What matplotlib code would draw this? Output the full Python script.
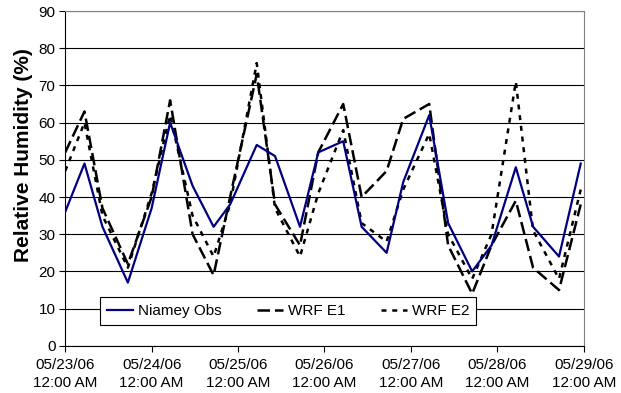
import matplotlib.pyplot as plt

plt.rcParams['font.family'] = ['Liberation Sans', 'DejaVu Sans']

# time in days since 05/23/06 12:00 AM
days = [0.0, 0.223, 0.431, 0.725, 1.0, 1.214, 1.474, 1.717, 1.908, 2.216,
        2.428, 2.717, 2.928, 3.217, 3.43, 3.719, 3.911, 4.212, 4.431, 4.709,
        4.933, 5.214, 5.414, 5.714, 5.965]

niamey_obs = [36, 49, 32, 17, 37, 60, 43, 32, 38, 54,
              51, 32, 52, 55, 32, 25, 44, 62, 33, 20,
              27, 48, 32, 24, 49]
wrf_e1 = [52, 63, 37, 22, 40, 66, 30, 19, 40, 73,
          38, 27, 52, 65, 40, 47, 61, 65, 27, 14,
          27, 39, 21, 15, 38]
wrf_e2 = [47, 60, 35, 21, 41, 62, 35, 24, 38, 76,
          37, 24, 41, 58, 33, 28, 42, 57, 30, 18,
          30, 71, 31, 18, 42]

tick_days = [0, 1, 2, 3, 4, 5, 6]
tick_labels = ['05/23/06\n12:00 AM', '05/24/06\n12:00 AM', '05/25/06\n12:00 AM',
               '05/26/06\n12:00 AM', '05/27/06\n12:00 AM', '05/28/06\n12:00 AM',
               '05/29/06\n12:00 AM']

fig = plt.figure(figsize=(6.21, 3.93), dpi=100)
ax = fig.add_axes([0.105, 0.12, 0.835, 0.852])

ax.plot(days, niamey_obs, color='#000080', linewidth=1.6, label='Niamey Obs', zorder=4)
ax.plot(days, wrf_e1, color='black', linewidth=1.8, dashes=(5, 2), label='WRF E1', zorder=3)
ax.plot(days, wrf_e2, color='black', linewidth=1.8, dashes=(2, 2.3), label='WRF E2', zorder=3)

ax.set_xlim(0, 6)
ax.set_ylim(0, 90)
ax.set_yticks(range(0, 91, 10))
ax.set_xticks(tick_days)
ax.set_xticklabels(tick_labels, fontsize=11, linespacing=1.35)
ax.tick_params(axis='y', labelsize=11, direction='out', length=4, width=0.8, pad=3)
ax.tick_params(axis='x', direction='out', length=4, width=0.8, pad=5)
ax.yaxis.grid(True, color='black', linewidth=0.8)
ax.set_axisbelow(True)

ax.spines['top'].set_color('#808080')
ax.spines['right'].set_color('#808080')
ax.spines['left'].set_color('black')
ax.spines['bottom'].set_color('black')

ax.set_ylabel('Relative Humidity (%)', fontsize=15, fontweight='bold')
ax.yaxis.set_label_coords(-0.062, 0.57)

leg = ax.legend(loc='lower left', bbox_to_anchor=(0.0674, 0.063), borderaxespad=0,
                ncol=3, fontsize=11, frameon=True, fancybox=False, edgecolor='black',
                framealpha=1, handlelength=1.7, handletextpad=0.3, columnspacing=2.35,
                borderpad=0.45)
leg.get_frame().set_linewidth(0.8)

fig.savefig('out.png', dpi=100)
